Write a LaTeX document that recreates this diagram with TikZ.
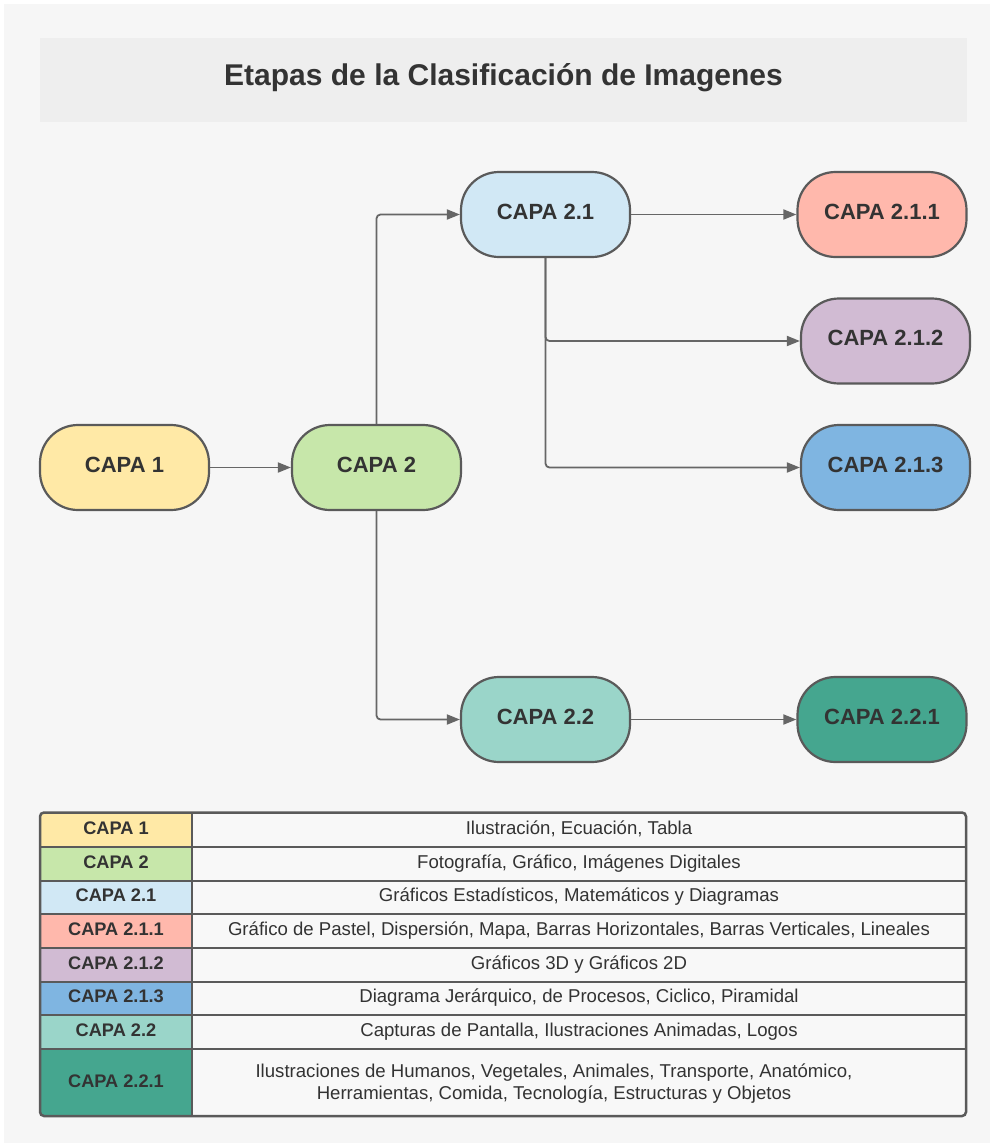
\documentclass[tikz,border=0pt]{standalone}
\usepackage{fontspec}
\setmainfont{Liberation Sans}
\usetikzlibrary{arrows.meta}

\definecolor{pagebg}{HTML}{F6F6F6}
\definecolor{titlebg}{HTML}{EEEEEE}
\definecolor{ink}{HTML}{333333}
\definecolor{edgeline}{HTML}{5A5A5A}
\definecolor{wire}{HTML}{666666}
\definecolor{cellbg}{HTML}{F8F8F8}
\definecolor{capaA}{HTML}{FFE9A6}
\definecolor{capaB}{HTML}{C7E7AA}
\definecolor{capaC}{HTML}{D1E8F5}
\definecolor{capaD}{HTML}{FFB8AC}
\definecolor{capaE}{HTML}{D1BBD3}
\definecolor{capaF}{HTML}{7FB5E1}
\definecolor{capaG}{HTML}{9AD5C9}
\definecolor{capaH}{HTML}{45A68F}

\tikzset{
  layer/.style={draw=edgeline, line width=2.2pt, rounded corners=38pt,
    minimum width=169pt, minimum height=85pt, inner sep=0pt,
    text=ink, font=\fontsize{22}{26}\selectfont\bfseries, text depth=6pt},
  conn/.style={draw=wire, line width=1.8pt, rounded corners=4pt,
    -{Triangle[length=13pt,width=10pt]}},
  headline/.style={text=ink, font=\fontsize{30}{34}\selectfont\bfseries, anchor=base},
  keylabel/.style={text=ink, font=\fontsize{18.2}{21}\selectfont\bfseries, anchor=base},
  keytext/.style={text=ink, font=\fontsize{18.6}{22.5}\selectfont, anchor=base},
}

\begin{document}
\begin{tikzpicture}[x=1pt,y=-1pt]
\useasboundingbox (0,0) rectangle (993,1146);
\fill[white] (0,0) rectangle (993,1146);
\fill[pagebg] (4,4) rectangle (990,1143);

% title banner
\fill[titlebg] (40,38) rectangle (967,122);
\node[headline] (title) at (503.5,85) {Etapas de la Clasificación de Imagenes};

% layer nodes
\node[layer, fill=capaA] (c1)   at (124.5,467.5) {CAPA 1};
\node[layer, fill=capaB] (c2)   at (376.5,467.5) {CAPA 2};
\node[layer, fill=capaC] (c21)  at (545.5,214.5) {CAPA 2.1};
\node[layer, fill=capaD] (c211) at (882,214.5)   {CAPA 2.1.1};
\node[layer, fill=capaE] (c212) at (885.5,341)   {CAPA 2.1.2};
\node[layer, fill=capaF] (c213) at (885.5,467.5) {CAPA 2.1.3};
\node[layer, fill=capaG] (c22)  at (545.5,719.5) {CAPA 2.2};
\node[layer, fill=capaH] (c221) at (882,719.5)   {CAPA 2.2.1};

% connectors
\draw[conn] (c1.east) -- (c2.west);
\draw[conn] (c2.north) |- (c21.west);
\draw[conn] (c2.south) |- (c22.west);
\draw[conn] (c21.east) -- (c211.west);
\draw[conn] (c21.south) |- (c212.west);
\draw[conn] (c21.south) |- (c213.west);
\draw[conn] (c22.east) -- (c221.west);

% legend table
\begin{scope}
  \clip[rounded corners=4pt] (40,812.5) rectangle (966,1116);
  \fill[cellbg] (40,812.5) rectangle (966,1116);
  \foreach \ya/\yb/\col in {812.5/846.5/capaA, 846.5/880.5/capaB, 880.5/914/capaC,
      914/947.5/capaD, 947.5/981.5/capaE, 981.5/1015/capaF, 1015/1048.5/capaG,
      1048.5/1116/capaH}
    \fill[\col] (40,\ya) rectangle (192,\yb);
\end{scope}
\foreach \y in {846.5,880.5,914,947.5,981.5,1015,1048.5}
  \draw[edgeline, line width=2pt] (40,\y) -- (966,\y);
\draw[edgeline, line width=2pt] (192,812.5) -- (192,1116);
\draw[edgeline, line width=2.5pt, rounded corners=4pt] (40,812.5) rectangle (966,1116);

\foreach \nm/\yb/\lab/\desc in {
    a/834/{CAPA 1}/{Ilustración, Ecuación, Tabla},
    b/868/{CAPA 2}/{Fotografía, Gráfico, Imágenes Digitales},
    c/901.5/{CAPA 2.1}/{Gráficos Estadísticos, Matemáticos y Diagramas},
    d/935/{CAPA 2.1.1}/{Gráfico de Pastel, Dispersión, Mapa, Barras Horizontales, Barras Verticales, Lineales},
    e/969/{CAPA 2.1.2}/{Gráficos 3D y Gráficos 2D},
    f/1002.5/{CAPA 2.1.3}/{Diagrama Jerárquico, de Procesos, Ciclico, Piramidal},
    g/1036/{CAPA 2.2}/{Capturas de Pantalla, Ilustraciones Animadas, Logos}}
{
  \node[keylabel] (lab\nm) at (116,\yb) {\lab};
  \node[keytext] (desc\nm) at (579,\yb) {\desc};
}
\node[keylabel] (labh) at (116,1087) {CAPA 2.2.1};
\node[keytext] (desch1) at (554,1077) {Ilustraciones de Humanos, Vegetales, Animales, Transporte, Anatómico,};
\node[keytext] (desch2) at (554,1099.5) {Herramientas, Comida, Tecnología, Estructuras y Objetos};
\end{tikzpicture}
\end{document}
